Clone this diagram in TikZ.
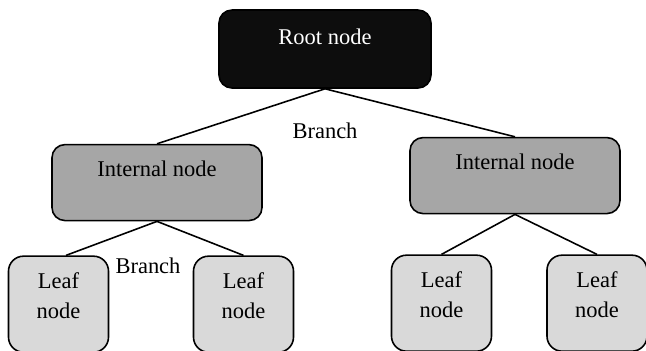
\documentclass[tikz,border=0pt]{standalone}
\usepackage{fontspec}
\setmainfont{Liberation Serif}
\usepackage{tikz}
\usetikzlibrary{positioning,calc}
\definecolor{rootfill}{HTML}{0D0D0D}
\definecolor{innerfill}{HTML}{A6A6A6}
\definecolor{leaffill}{HTML}{D9D9D9}

\begin{document}
\begin{tikzpicture}
  [box/.style={
    rectangle,
    rounded corners=0.26cm,
    draw,
    line width=0.9pt,
    inner sep=0pt,
    align=center,
    font=\fontsize{12.8}{17}\selectfont
    },
   rootnode/.style={box, fill=rootfill, text=white,
    minimum width=4.24cm, text height=0.68cm, text depth=0.88cm},
   innernode/.style={box, fill=innerfill,
    minimum width=4.2cm, text height=0.64cm, text depth=0.88cm},
   leafnode/.style={box, fill=leaffill, rounded corners=0.3cm,
    text width=2cm, text height=0.64cm, text depth=1.28cm},
   branch/.style={font=\fontsize{12.8}{17}\selectfont}
  ]
  \useasboundingbox (0,0) rectangle (12.92,-7);

  \node [rootnode] at (6.5,-0.98) (root) {Root node};

  % primo livello
  \node [innernode, below left=1.1cm and 3.36cm of root.south, anchor=north] (intl) {Internal node};
  \node [innernode, below right=0.96cm and 3.8cm of root.south, anchor=north] (intr) {Internal node};

  % foglie
  \node [leafnode, below left=0.68cm and 1.97cm of intl.south, anchor=north] (leafa) {Leaf\\node};
  \node [leafnode, below right=0.68cm and 1.73cm of intl.south, anchor=north] (leafb) {Leaf\\node};
  \node [leafnode, below left=0.8cm and 1.47cm of intr.south, anchor=north] (leafc) {Leaf\\node};
  \node [leafnode, below right=0.8cm and 1.64cm of intr.south, anchor=north] (leafd) {Leaf\\node};

  \node [branch, below=0.84cm of root.south, anchor=center] (brancha) {Branch};
  \node [branch, below=0.88cm of intl.south, xshift=-0.18cm, anchor=center] (branchb) {Branch};

  \draw[line width=0.9pt] (root.south) -- (intl.north);
  \draw[line width=0.9pt] (root.south) -- (intr.north);
  \draw[line width=0.9pt] (intl.south) -- ($(leafa.north)+(0.15,0)$);
  \draw[line width=0.9pt] (intl.south) -- (leafb.north);
  \draw[line width=0.9pt] (intr.south) -- (leafc.north);
  \draw[line width=0.9pt] (intr.south) -- (leafd.north);
\end{tikzpicture}
\end{document}
